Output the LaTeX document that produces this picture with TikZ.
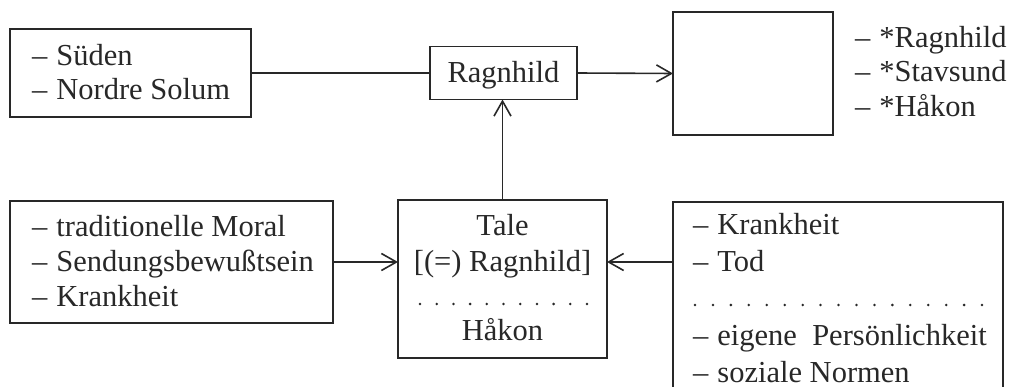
\documentclass[tikz,border=0pt]{standalone}
\usepackage{fontspec}
\setmainfont{Liberation Serif}
\usetikzlibrary{arrows.meta}
\definecolor{ink}{RGB}{40,40,40}
\begin{document}
\begin{tikzpicture}[x=1pt,y=-1pt,
  box/.style={draw=ink,line width=1.7pt,rectangle,inner sep=0pt,outer sep=0pt},
  txt/.style={inner sep=0pt,outer sep=0pt,text=ink,anchor=base west,font=\fontsize{30.5}{35}\selectfont},
  ctxt/.style={txt,anchor=base},
  conn/.style={draw=ink,line width=1.6pt},
  arr/.style={conn,-{Straight Barb[length=15pt,width=17pt,line width=1.6pt]}},
]
\useasboundingbox (0,0) rectangle (1009,387);
\clip (0,0) rectangle (1009,387);
\fill[white] (0,0) rectangle (1009,387);

% boxes
\node[box,minimum width=241pt,minimum height=88pt] (b1) at (130.5,73) {};
\node[box,minimum width=147pt,minimum height=53pt] (rag) at (503.5,73) {};
\node[box,minimum width=160pt,minimum height=123pt] (empty) at (753,73.5) {};
\node[box,minimum width=323pt,minimum height=122pt] (b2) at (171.5,262) {};
\node[box,minimum width=209pt,minimum height=158pt] (tale) at (502.5,279) {};
\node[box,minimum width=330pt,minimum height=218pt] (b3) at (838,311) {};

% texts
\node[txt] (t11) at (32,66) {–\hspace{0.3em}Süden};
\node[txt] (t12) at (32,100) {–\hspace{0.3em}Nordre Solum};
\node[ctxt] (trag) at (503.5,83) {Ragnhild};
\node[txt] (r1) at (855,48) {–\hspace{0.3em}*Ragnhild};
\node[txt] (r2) at (855,82) {–\hspace{0.3em}*Stavsund};
\node[txt] (r3) at (855,117) {–\hspace{0.3em}*Håkon};
\node[txt] (t21) at (32,237) {–\hspace{0.3em}traditionelle Moral};
\node[txt] (t22) at (32,272) {–\hspace{0.3em}Sendungsbewußtsein};
\node[txt] (t23) at (32,306) {–\hspace{0.3em}Krankheit};
\node[ctxt] (ta1) at (502.5,236) {Tale};
\node[ctxt] (ta2) at (502.5,272) {[(=) Ragnhild]};
\node[ctxt] (ta3) at (502.5,340) {Håkon};
\node[txt] (t31) at (693,235) {–\hspace{0.3em}Krankheit};
\node[txt] (t32) at (693,272) {–\hspace{0.3em}Tod};
\node[txt] (t33) at (693,345) {–\hspace{0.3em}eigene\ \ Persönlichkeit};
\node[txt] (t34) at (693,382) {–\hspace{0.3em}soziale Normen};

% dotted separators
\foreach \i in {0,...,10} \fill[ink] ({420+\i*16.7},304) circle (1.4pt);
\foreach \i in {0,...,16} \fill[ink] ({695+\i*17.94},305) circle (1.4pt);

% connectors
\draw[conn] (b1.east) -- (rag.west);
\draw[arr] (rag.east) -- (empty.west);
\draw[arr] (tale.north) -- (tale.north |- rag.south);
\draw[arr] (b2.east) -- (b2.east -| tale.west);
\draw[arr] (b2.east -| b3.west) -- (b2.east -| tale.east);
\end{tikzpicture}
\end{document}
